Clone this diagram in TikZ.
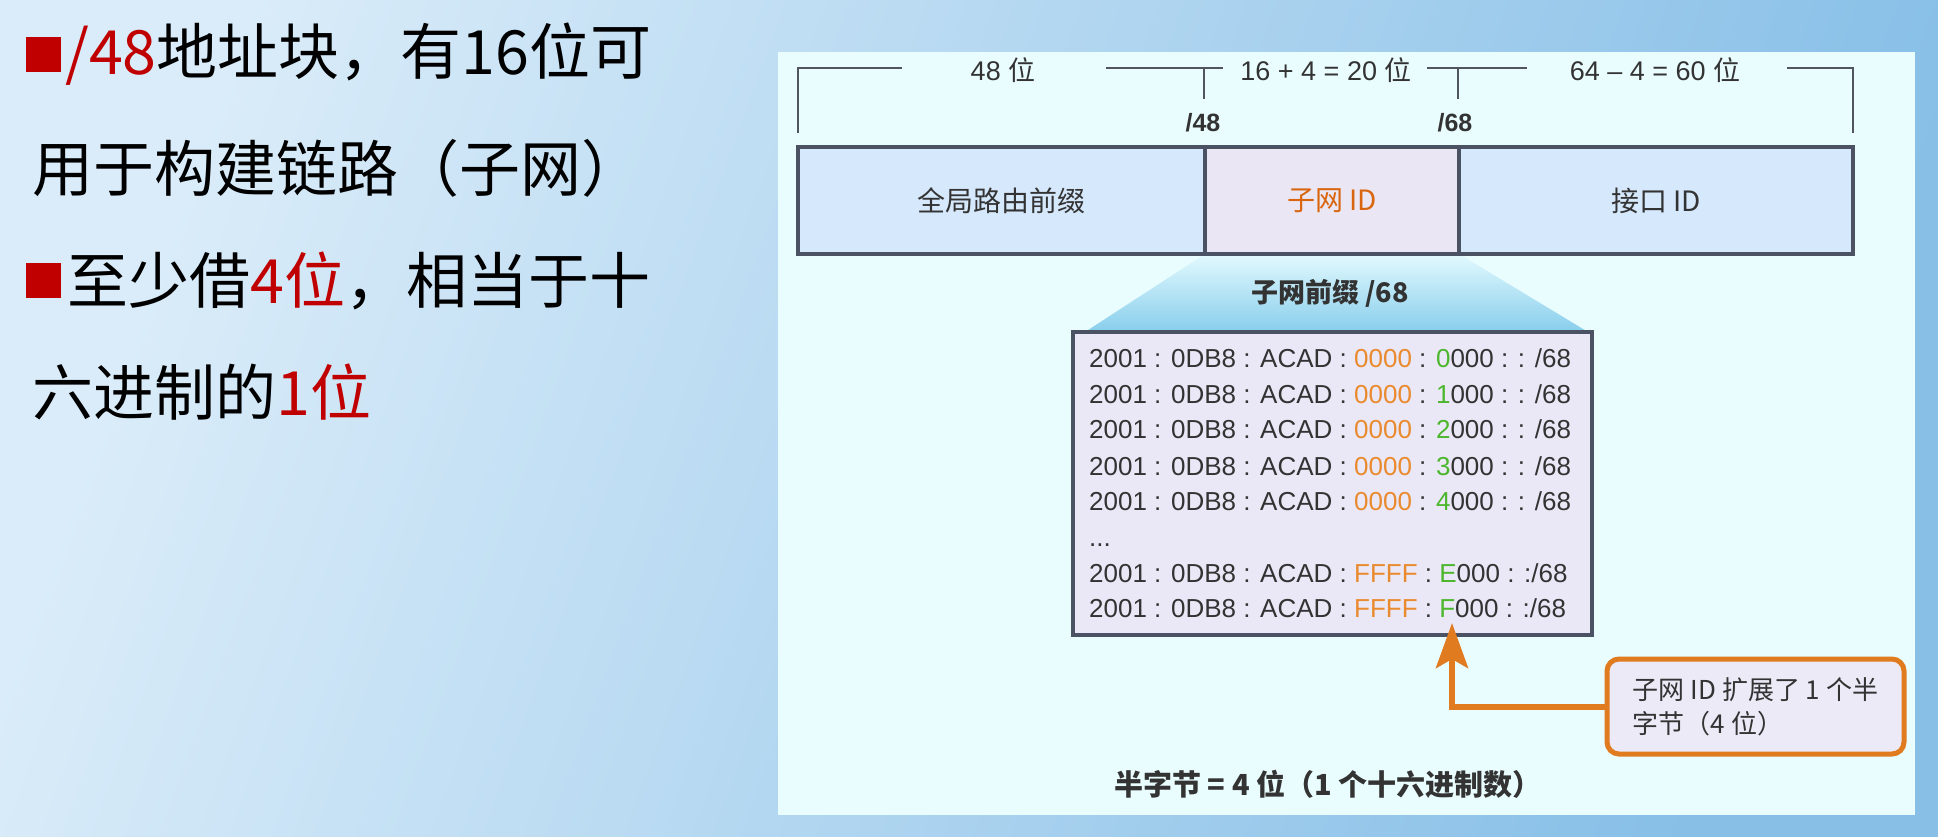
\documentclass[tikz,border=0pt]{standalone}
\usepackage{fontspec}
\setmainfont{Liberation Sans}
\newfontfamily\cjk{Noto Sans CJK SC}
\usetikzlibrary{arrows.meta}
\definecolor{bglight}{HTML}{DAECF9}
\definecolor{bgdark}{HTML}{87BFE7}
\definecolor{panelc}{HTML}{E9FCFE}
\definecolor{bracketc}{HTML}{50555E}
\definecolor{borderc}{HTML}{4B5263}
\definecolor{cellblue}{HTML}{D6E8FB}
\definecolor{cellmid}{HTML}{EAE6F3}
\definecolor{txtc}{HTML}{333333}
\definecolor{subidc}{HTML}{D9660F}
\definecolor{traptop}{HTML}{E2F9FE}
\definecolor{trapbot}{HTML}{88CEEC}
\definecolor{addrfill}{HTML}{EAE8F6}
\definecolor{addrorange}{HTML}{EA8A2E}
\definecolor{addrgreen}{HTML}{4CB72C}
\definecolor{callborder}{HTML}{E07B20}
\definecolor{callfill}{HTML}{ECEAF7}
\definecolor{redc}{HTML}{C00000}
\newcommand\oA[1]{\textcolor{addrorange}{#1}}
\newcommand\gA[1]{\textcolor{addrgreen}{#1}}
\begin{document}
\begin{tikzpicture}[x=1pt,y=-1pt,
  bigtext/.style={anchor=west, inner sep=0pt, text=black, font=\cjk\fontsize{61}{61}\selectfont},
  bulletsq/.style={fill=redc, minimum size=35pt, inner sep=0pt},
  bracketline/.style={draw=bracketc, line width=2.5pt},
  toplabel/.style={inner sep=0pt, text=txtc, font=\fontsize{27}{27}\selectfont},
  cutlabel/.style={inner sep=0pt, text=txtc, font=\bfseries\fontsize{25}{25}\selectfont},
  cell/.style={draw=borderc, line width=4pt, minimum height=107pt, inner sep=0pt, text=txtc, font=\cjk\fontsize{28}{28}\selectfont},
  addrline/.style={anchor=base west, inner sep=0pt, text=txtc, font=\fontsize{26}{26}\selectfont},
  arrowline/.style={draw=callborder, line width=6pt, -{Stealth[length=45pt, width=32pt, inset=9pt]}},
  callout/.style={draw=callborder, fill=callfill, line width=5pt, rounded corners=12pt, align=left, minimum width=297pt, minimum height=95pt, inner sep=0pt, text=txtc, font=\cjk\fontsize{26}{34}\selectfont}
]
\useasboundingbox (0,0) rectangle (1938,836);
% background
\shade[top color=bglight, bottom color=bgdark, shading angle=70] (0,0) rectangle (1938,836);
% left text
\node[bulletsq] (b1) at (43.5,54.5) {};
\node[bigtext] (l1) at (65,54) {\textcolor{redc}{/48}地址块，有16位可};
\node[bigtext] (l2) at (32,168) {用于构建链路（子网）};
\node[bulletsq] (b2) at (43.5,280.5) {};
\node[bigtext] (l3) at (67,281) {至少借\textcolor{redc}{4位}，相当于十};
\node[bigtext] (l4) at (32,392) {六进制的\textcolor{redc}{1位}};
% panel
\fill[panelc] (778,52) rectangle (1915,815);
% bracket
\draw[bracketline] (798,133) -- (798,68) -- (902,68);
\draw[bracketline] (1106,68) -- (1223,68);
\draw[bracketline] (1204,68) -- (1204,99);
\draw[bracketline] (1427,68) -- (1527,68);
\draw[bracketline] (1458,68) -- (1458,99);
\draw[bracketline] (1787,68) -- (1853,68) -- (1853,133);
\node[toplabel] (w48) at (1003,70) {48 {\cjk 位}};
\node[toplabel] (w20) at (1326,70) {16 + 4 = 20 {\cjk 位}};
\node[toplabel] (w60) at (1655,70) {64 – 4 = 60 {\cjk 位}};
\node[cutlabel] (c48) at (1203,123) {/48};
\node[cutlabel] (c68) at (1455,123) {/68};
% trapezoid
\shade[top color=traptop, bottom color=trapbot] (1205,254) -- (1459,254) -- (1588,332) -- (1085,332) -- cycle;
% cells
\node[cell, fill=cellblue, minimum width=407pt] (grp) at (1001.5,200.5) {全局路由前缀};
\node[cell, fill=cellmid, minimum width=254pt, text=subidc] (sid) at (1332,200.5) {子网 ID};
\node[cell, fill=cellblue, minimum width=394pt] (iid) at (1656,200.5) {接口 ID};
\node[inner sep=0pt, text=txtc, font=\cjk\bfseries\fontsize{27}{27}\selectfont] (sp) at (1330,293) {子网前缀 /68};
% address box
\node[draw=borderc, fill=addrfill, line width=4pt, minimum width=519pt, minimum height=303pt, inner sep=0pt] (abox) at (1332.5,483.5) {};
\node[addrline] (a1) at (1089,367) {2001 : 0DB8 : ACAD : \oA{0000} : \gA{0}000 : : /68};
\node[addrline] (a2) at (1089,403) {2001 : 0DB8 : ACAD : \oA{0000} : \gA{1}000 : : /68};
\node[addrline] (a3) at (1089,438) {2001 : 0DB8 : ACAD : \oA{0000} : \gA{2}000 : : /68};
\node[addrline] (a4) at (1089,475) {2001 : 0DB8 : ACAD : \oA{0000} : \gA{3}000 : : /68};
\node[addrline] (a5) at (1089,510) {2001 : 0DB8 : ACAD : \oA{0000} : \gA{4}000 : : /68};
\node[addrline] (a6) at (1089,546) {...};
\node[addrline] (a7) at (1089,582) {2001 : 0DB8 : ACAD : \oA{FFFF} : \gA{E}000 : :/68};
\node[addrline] (a8) at (1089,617) {2001 : 0DB8 : ACAD : \oA{FFFF} : \gA{F}000 : :/68};
% callout and arrow
\node[callout] (co) at (1755.5,706.5) {子网 ID 扩展了 1 个半\\字节（4 位）};
\coordinate (tipF) at (1452,623);
\draw[arrowline] (co.west) -| (tipF);
% bottom note
\node[inner sep=0pt, text=txtc, font=\cjk\bfseries\fontsize{29}{29}\selectfont] (note) at (1328,784) {半字节 = 4 位（1 个十六进制数）};
\end{tikzpicture}
\end{document}
